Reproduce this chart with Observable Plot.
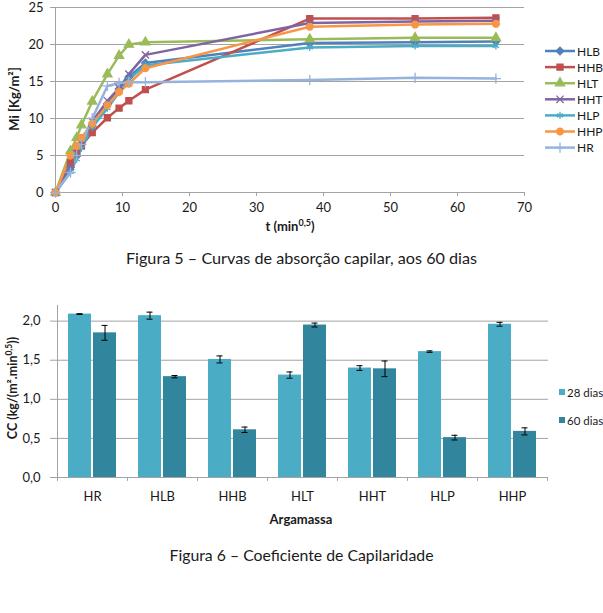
<!DOCTYPE html>
<html><head><meta charset="utf-8">
<script src="https://cdn.jsdelivr.net/npm/d3@7"></script>
<script src="https://cdn.jsdelivr.net/npm/@observablehq/plot@0.6"></script>
<style>
body{margin:0;background:#fff;}
#wrap{position:relative;width:603px;height:613px;overflow:hidden;font-family:Lato,"Open Sans",sans-serif;color:#1a1a1a;}
#wrap svg{position:absolute;left:0;}
.cap{position:absolute;left:0;width:603px;text-align:center;line-height:20px;}
</style></head><body><div id="wrap"></div>
<script>
// ---------- Figure 5 data ----------
const tValues = [0, 2.24, 3.16, 3.87, 5.48, 7.75, 9.49, 10.95, 13.42, 37.95, 53.67, 65.73];
const seriesNames = ["HLB", "HHB", "HLT", "HHT", "HLP", "HHP", "HR"];
const HLB = [0, 3.4, 5.0, 6.5, 9.0, 12.0, 14.0, 15.6, 17.5, 20.2, 20.3, 20.4];
const HHB = [0, 4.0, 5.3, 6.3, 8.1, 10.1, 11.4, 12.4, 13.9, 23.5, 23.5, 23.6];
const HLT = [0, 5.6, 7.4, 9.1, 12.3, 16.0, 18.5, 20.0, 20.3, 20.7, 20.9, 20.9];
const HHT = [0, 3.5, 5.3, 7.0, 9.6, 12.4, 14.1, 16.0, 18.6, 22.9, 23.1, 23.2];
const HLP = [0, 2.8, 4.5, 6.0, 8.8, 11.4, 13.5, 15.3, 17.2, 19.6, 19.8, 19.8];
const HHP = [0, 5.0, 6.3, 7.4, 9.3, 11.8, 13.6, 14.7, 16.8, 22.4, 22.7, 22.8];
const HR  = [0, 2.7, 5.0, 6.5, 10.0, 14.4, 14.8, 14.9, 14.9, 15.2, 15.5, 15.4];
const seriesValues = [HLB, HHB, HLT, HHT, HLP, HHP, HR];
const seriesColors = ["#4F81BD", "#C0504D", "#9BBB59", "#8064A2", "#4BACC6", "#F79646", "#95B3DC"];
const seriesSymbols = ["diamond2", "square", "triangle", "times", "asterisk", "circle", "plus"];
const xTicks1 = [0, 10, 20, 30, 40, 50, 60, 70];
const yTicks1 = [0, 5, 10, 15, 20, 25];

// ---------- Figure 6 data ----------
const barCategories = ["HR", "HLB", "HHB", "HLT", "HHT", "HLP", "HHP"];
const cc28 = [2.09, 2.07, 1.51, 1.31, 1.40, 1.61, 1.96];
const cc60 = [1.85, 1.29, 0.61, 1.95, 1.39, 0.51, 0.59];
const err28 = [0.005, 0.045, 0.045, 0.04, 0.03, 0.01, 0.025];
const err60 = [0.095, 0.015, 0.035, 0.025, 0.10, 0.03, 0.045];
const barSeries = ["28 dias", "60 dias"];
const barColors = ["#4BACC6", "#31859C"];
const yTicks2 = [0, 0.5, 1.0, 1.5, 2.0];

const FONT = 'Lato, "Open Sans", sans-serif';
const GRID = "#a3a3a3";
const TXT = "#1a1a1a";
const wrap = document.getElementById("wrap");

// ===== Chart 1 =====
const rows = [];
seriesNames.forEach((s, i) => tValues.forEach((t, j) => rows.push({s, t, v: seriesValues[i][j]})));

const c1 = Plot.plot({
  width: 603, height: 240,
  marginLeft: 55, marginRight: 79, marginTop: 7, marginBottom: 48,
  style: {fontFamily: FONT, fontSize: "13px", color: TXT, background: "transparent", overflow: "visible"},
  x: {domain: [0, 70], label: null},
  y: {domain: [0, 25], label: null},
  color: {domain: seriesNames, range: seriesColors},
  symbol: {domain: seriesNames, range: seriesSymbols},
  marks: [
    Plot.gridY({ticks: yTicks1, stroke: GRID, strokeOpacity: 1}),
    Plot.ruleX([0], {stroke: GRID}),
    Plot.ruleY([0], {stroke: GRID}),
    Plot.axisX({ticks: xTicks1, tickSize: 4, tickPadding: 6, stroke: GRID, label: null}),
    Plot.axisY({ticks: yTicks1, tickSize: 5, tickPadding: 7, stroke: GRID, label: null}),
    Plot.line(rows, {x: "t", y: "v", z: "s", stroke: "s", strokeWidth: 2.5}),
    Plot.dot(rows, {x: "t", y: "v", symbol: "s", fill: "s", stroke: "s", strokeWidth: 1.3, r: 3.4})
  ]
});
c1.style.top = "0px";
wrap.appendChild(c1);
const s1 = d3.select(c1);
// x label
const xl = s1.append("text").attr("x", 290).attr("y", 231).attr("text-anchor", "middle")
  .attr("font-weight", "bold").attr("font-size", 13).attr("fill", TXT);
xl.append("tspan").text("t (min");
xl.append("tspan").attr("dy", -5).attr("font-size", 9).text("0,5");
xl.append("tspan").attr("dy", 5).text(")");
// y label
s1.append("text").attr("transform", "translate(19,99) rotate(-90)").attr("text-anchor", "middle")
  .attr("font-weight", "bold").attr("font-size", 13).attr("fill", TXT).text("Mi [Kg/m²]");
// legend
const symMap = {diamond2: d3.symbolDiamond2, square: d3.symbolSquare, triangle: d3.symbolTriangle,
  times: d3.symbolTimes, asterisk: d3.symbolAsterisk, circle: d3.symbolCircle, plus: d3.symbolPlus};
const lg = s1.append("g");
seriesNames.forEach((s, i) => {
  const y = 51 + i * 16.1;
  lg.append("line").attr("x1", 545).attr("x2", 575).attr("y1", y).attr("y2", y)
    .attr("stroke", seriesColors[i]).attr("stroke-width", 2.5);
  lg.append("path").attr("d", d3.symbol(symMap[seriesSymbols[i]], 3.4 * 3.4 * Math.PI)())
    .attr("transform", `translate(560,${y})`).attr("fill", seriesColors[i]).attr("stroke", seriesColors[i]).attr("stroke-width", 1.3);
  lg.append("text").attr("x", 577).attr("y", y + 4.5).attr("text-anchor", "start")
    .attr("font-size", 12).attr("fill", TXT).text(s);
});

// caption 1
const cap1 = document.createElement("div");
cap1.className = "cap"; cap1.style.top = "248px"; cap1.style.fontSize = "16.2px";
cap1.textContent = "Figura 5 – Curvas de absorção capilar, aos 60 dias";
wrap.appendChild(cap1);

// ===== Chart 2 =====
const bars = [];
barCategories.forEach((c, i) => {
  bars.push({c, s: barSeries[0], v: cc28[i], e: err28[i]});
  bars.push({c, s: barSeries[1], v: cc60[i], e: err60[i]});
});
const b28 = bars.filter(d => d.s === barSeries[0]);
const b60 = bars.filter(d => d.s === barSeries[1]);

const c2 = Plot.plot({
  width: 603, height: 250,
  marginLeft: 55, marginRight: 55, marginTop: 25, marginBottom: 53,
  style: {fontFamily: FONT, fontSize: "13px", color: TXT, background: "transparent", overflow: "visible"},
  x: {domain: barCategories, padding: 0, label: null},
  y: {domain: [0, 2.2], label: null},
  color: {domain: barSeries, range: barColors},
  marks: [
    Plot.gridY({ticks: yTicks2, stroke: GRID, strokeOpacity: 1}),
    Plot.axisY({ticks: yTicks2, tickSize: 5, tickPadding: 10, stroke: GRID, tickFormat: d => d.toFixed(1).replace(".", ","), label: null}),
    Plot.axisX({tickSize: 0, tickPadding: 14, label: null}),
    Plot.barY(b28, {x: "c", y: "v", fill: "s", insetLeft: 11, insetRight: 36}),
    Plot.barY(b60, {x: "c", y: "v", fill: "s", insetLeft: 36, insetRight: 11}),
    Plot.ruleX(b28, {x: "c", y1: d => d.v - d.e, y2: d => d.v + d.e, dx: -12.5, stroke: "#000", strokeWidth: 1}),
    Plot.ruleX(b60, {x: "c", y1: d => d.v - d.e, y2: d => d.v + d.e, dx: 12.5, stroke: "#000", strokeWidth: 1}),
    Plot.tickY(b28, {x: "c", y: d => d.v + d.e, insetLeft: 19.5, insetRight: 44.5, stroke: "#000"}),
    Plot.tickY(b28, {x: "c", y: d => d.v - d.e, insetLeft: 19.5, insetRight: 44.5, stroke: "#000"}),
    Plot.tickY(b60, {x: "c", y: d => d.v + d.e, insetLeft: 44.5, insetRight: 19.5, stroke: "#000"}),
    Plot.tickY(b60, {x: "c", y: d => d.v - d.e, insetLeft: 44.5, insetRight: 19.5, stroke: "#000"}),
    Plot.ruleY([0], {stroke: GRID}),
    Plot.ruleX(barCategories, {x: d => d, dx: -35, y1: 0, y2: -0.05, stroke: GRID}),
    Plot.ruleX(barCategories.slice(-1), {x: d => d, dx: 35, y1: 0, y2: -0.05, stroke: GRID}),
    Plot.ruleX(barCategories.slice(0, 1), {x: d => d, dx: -35, y1: 0, y2: 2.2, stroke: GRID})
  ]
});
c2.style.top = "280px";
wrap.appendChild(c2);
const s2 = d3.select(c2);
s2.append("text").attr("x", 301).attr("y", 244).attr("text-anchor", "middle")
  .attr("font-weight", "bold").attr("font-size", 13).attr("fill", TXT).text("Argamassa");
const yl2 = s2.append("text").attr("transform", "translate(17,108) rotate(-90)").attr("text-anchor", "middle")
  .attr("font-weight", "bold").attr("font-size", 12.5).attr("fill", TXT);
yl2.append("tspan").text("CC (kg/(m².min");
yl2.append("tspan").attr("dy", -5).attr("font-size", 8.5).text("0,5");
yl2.append("tspan").attr("dy", 5).text("))");
barSeries.forEach((s, i) => {
  const y = 112 + i * 28;
  s2.append("rect").attr("x", 559).attr("y", y - 3).attr("width", 6).attr("height", 6).attr("fill", barColors[i]);
  s2.append("text").attr("x", 567).attr("y", y + 4.5).attr("text-anchor", "start")
    .attr("font-size", 11.5).attr("fill", TXT).text(s);
});

const cap2 = document.createElement("div");
cap2.className = "cap"; cap2.style.top = "545px"; cap2.style.fontSize = "15.8px";
cap2.textContent = "Figura 6 – Coeficiente de Capilaridade";
wrap.appendChild(cap2);
</script></body></html>
